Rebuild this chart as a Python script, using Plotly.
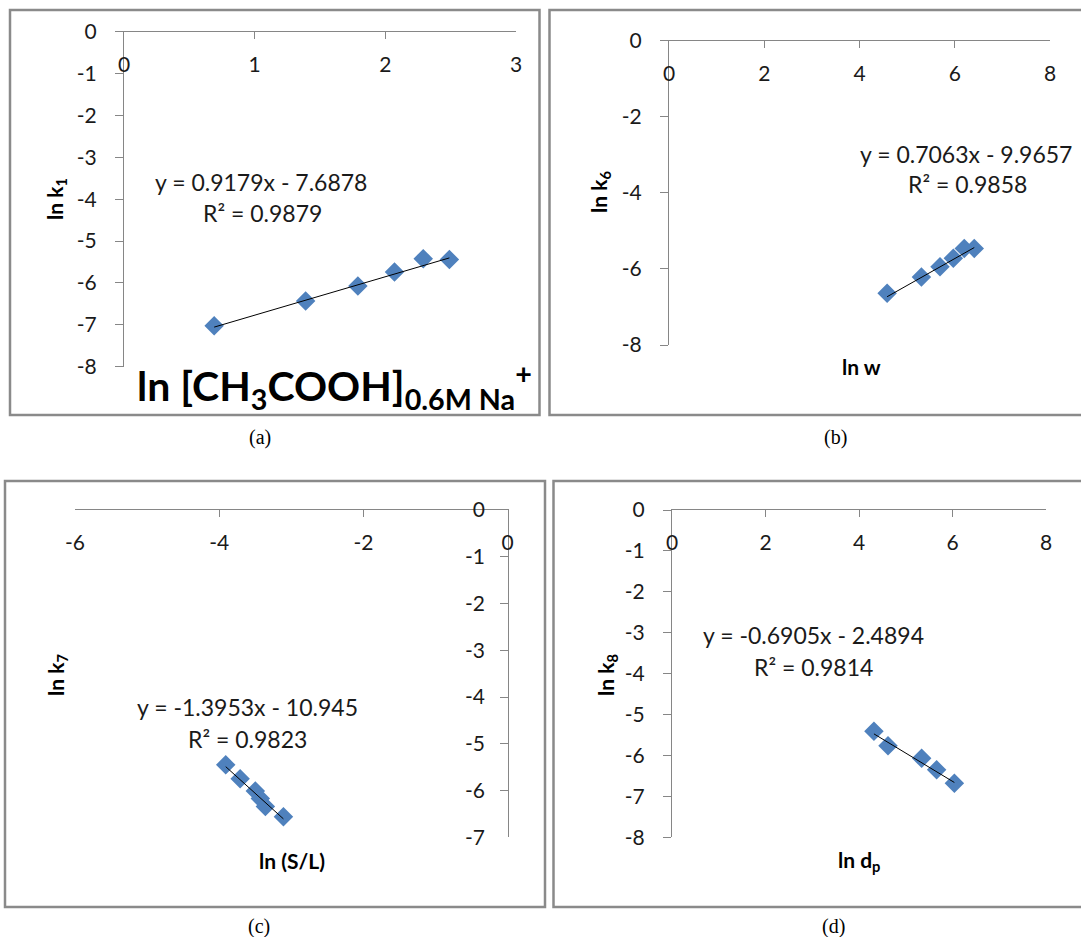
import plotly.graph_objects as go

# ---------------- data ----------------
a_x = [0.69, 1.39, 1.79, 2.07, 2.29, 2.49]
a_y = [-7.02, -6.43, -6.07, -5.74, -5.42, -5.44]
b_x = [4.58, 5.30, 5.69, 5.97, 6.20, 6.41]
b_y = [-6.64, -6.21, -5.94, -5.72, -5.46, -5.46]
c_x = [-3.91, -3.71, -3.50, -3.43, -3.36, -3.11]
c_y = [-5.45, -5.75, -6.01, -6.17, -6.34, -6.56]
d_x = [4.32, 4.62, 5.34, 5.66, 6.04]
d_y = [-5.41, -5.76, -6.07, -6.35, -6.68]

slopes = [0.9179, 0.7063, -1.3953, -0.6905]
intercepts = [-7.6878, -9.9657, -10.945, -2.4894]
equations = ["y = 0.9179x - 7.6878", "y = 0.7063x - 9.9657",
             "y = -1.3953x - 10.945", "y = -0.6905x - 2.4894"]
r2_labels = ["R² = 0.9879", "R² = 0.9858", "R² = 0.9823", "R² = 0.9814"]
y_titles = ["ln k<sub>1</sub>", "ln k<sub>6</sub>", "ln k<sub>7</sub>", "ln k<sub>8</sub>"]
x_titles = ["ln [CH<sub>3</sub>COOH]<sub>0.6M Na</sub><sup>+</sup>", "ln w", "ln (S/L)",
            "ln d<sub>p</sub>"]
captions = ["(a)", "(b)", "(c)", "(d)"]

x_ticks = [[0, 1, 2, 3], [0, 2, 4, 6, 8], [-6, -4, -2, 0], [0, 2, 4, 6, 8]]
x_ticktext = [["0", "1", "2", "3"], ["0", "2", "4", "6", "8"],
              ["-6", "-4", "-2", "0"], ["0", "2", "4", "6", "8"]]
y_ticks = [[0, -1, -2, -3, -4, -5, -6, -7, -8], [0, -2, -4, -6, -8],
           [0, -1, -2, -3, -4, -5, -6, -7], [0, -1, -2, -3, -4, -5, -6, -7, -8]]
y_ticktext = [["0", "-1", "-2", "-3", "-4", "-5", "-6", "-7", "-8"],
              ["0", "-2", "-4", "-6", "-8"],
              ["0", "-1", "-2", "-3", "-4", "-5", "-6", "-7"],
              ["0", "-1", "-2", "-3", "-4", "-5", "-6", "-7", "-8"]]

# ---------------- layout helpers ----------------
W, H = 1081, 937
def px(x):
    return x / W
def py(y):
    return 1 - y / H

FONT = "Lato"
AX = "#868686"
TXT = "#1a1a1a"
BLUE = "#4F81BD"

fig = go.Figure()

series = [(a_x, a_y), (b_x, b_y), (c_x, c_y), (d_x, d_y)]
for i, (xs, ys) in enumerate(series):
    xr = "x" if i == 0 else f"x{i+1}"
    yr = "y" if i == 0 else f"y{i+1}"
    fig.add_trace(go.Scatter(x=xs, y=ys, mode="markers", xaxis=xr, yaxis=yr,
                             marker=dict(symbol="diamond", size=15, color=BLUE,
                                         line=dict(width=0)),
                             showlegend=False, hoverinfo="skip"))
    x0, x1 = min(xs), max(xs)
    fig.add_trace(go.Scatter(x=[x0, x1],
                             y=[slopes[i] * x0 + intercepts[i], slopes[i] * x1 + intercepts[i]],
                             mode="lines", xaxis=xr, yaxis=yr,
                             line=dict(color="#000000", width=1),
                             showlegend=False, hoverinfo="skip"))

tickfont = dict(family=FONT, size=21, color=TXT)

def xax(i, dom, rng, anchor):
    return dict(domain=[px(dom[0]), px(dom[1])], range=rng, anchor=anchor,
                tickmode="array", tickvals=x_ticks[i], ticktext=x_ticktext[i],
                side="top", showline=True, linecolor=AX, linewidth=1,
                ticks="inside", ticklen=7, tickcolor=AX, tickwidth=1,
                ticklabelposition="inside", ticklabeloverflow="allow",
                ticklabelstandoff=20, automargin=False,
                showgrid=False, zeroline=False, tickfont=tickfont, fixedrange=True)

def yax(i, dom, rng, anchor, side="left"):
    d = dict(domain=[py(dom[1]), py(dom[0])], range=rng, anchor=anchor,
             tickmode="array", tickvals=y_ticks[i], ticktext=y_ticktext[i],
             side=side, showline=True, linecolor=AX, linewidth=1,
             tickcolor=AX, tickwidth=1, ticklen=8, automargin=False,
             showgrid=False, zeroline=False, tickfont=tickfont, fixedrange=True,
             ticklabeloverflow="allow", ticklabelstandoff=14)
    if side == "left":
        d["ticks"] = "outside"
    else:
        d["ticks"] = "inside"
        d["ticklabelposition"] = "inside"
        d["ticklabelstandoff"] = 16
    return d

fig.update_layout(
    width=W, height=H, autosize=False,
    margin=dict(l=0, r=0, t=0, b=0, pad=0, autoexpand=False),
    paper_bgcolor="white", plot_bgcolor="rgba(0,0,0,0)",
    xaxis=xax(0, (124, 516), [0, 3], "y"),
    yaxis=yax(0, (31.7, 366.7), [-8, 0], "x"),
    xaxis2=xax(1, (669, 1050), [0, 8], "y2"),
    yaxis2=yax(1, (40.7, 345), [-8, 0], "x2"),
    xaxis3=xax(2, (75, 507.7), [-6, 0], "y3"),
    yaxis3=yax(2, (510, 837.3), [-7, 0], "x3", side="right"),
    xaxis4=xax(3, (672, 1046), [0, 8], "y4"),
    yaxis4=yax(3, (510, 837.3), [-8, 0], "x4"),
)

# panel frames
frames = [(10, 10, 539.5, 415), (549.5, 10, 1095, 415), (5, 481, 545, 907), (553.5, 481, 1095, 907)]
for (x0, y0, x1, y1) in frames:
    fig.add_shape(type="rect", xref="paper", yref="paper",
                  x0=px(x0), y0=py(y1), x1=px(x1), y1=py(y0),
                  line=dict(color="#8a8a8a", width=2.5), fillcolor="rgba(0,0,0,0)", layer="below")

ann = []
def note(text, x, y, size, family=FONT, color=TXT, angle=0):
    ann.append(dict(text=text, x=px(x), y=py(y), xref="paper", yref="paper",
                    xanchor="center", yanchor="middle", showarrow=False, textangle=angle,
                    font=dict(family=family, size=size, color=color)))

# equations (pixel centres)
eq_pos = [(261, 182), (966, 154), (247, 707), (813, 635)]
r2_pos = [(262, 213), (967, 184), (247, 739), (813, 667)]
for i in range(4):
    note(equations[i], eq_pos[i][0], eq_pos[i][1], 23)
    note(r2_labels[i], r2_pos[i][0], r2_pos[i][1], 23)

# y titles (rotated)
yt_pos = [(56, 199), (600, 192), (57, 675), (607, 675)]
for i in range(4):
    note("<b>" + y_titles[i] + "</b>", yt_pos[i][0], yt_pos[i][1], 21, color="#000000", angle=-90)

# x titles
note("<b>" + x_titles[0] + "</b>", 334, 386, 41, color="#000000")
xt_pos = [None, (861, 367), (292, 860), (859, 861)]
for i in range(1, 4):
    note("<b>" + x_titles[i] + "</b>", xt_pos[i][0], xt_pos[i][1], 21, color="#000000")

# captions
cap_pos = [(260, 437), (835, 437), (259, 926), (833, 926)]
for i in range(4):
    note(captions[i], cap_pos[i][0], cap_pos[i][1], 20, family="Liberation Serif", color="#000000")

fig.update_layout(annotations=ann)
fig.write_html("out.html")
